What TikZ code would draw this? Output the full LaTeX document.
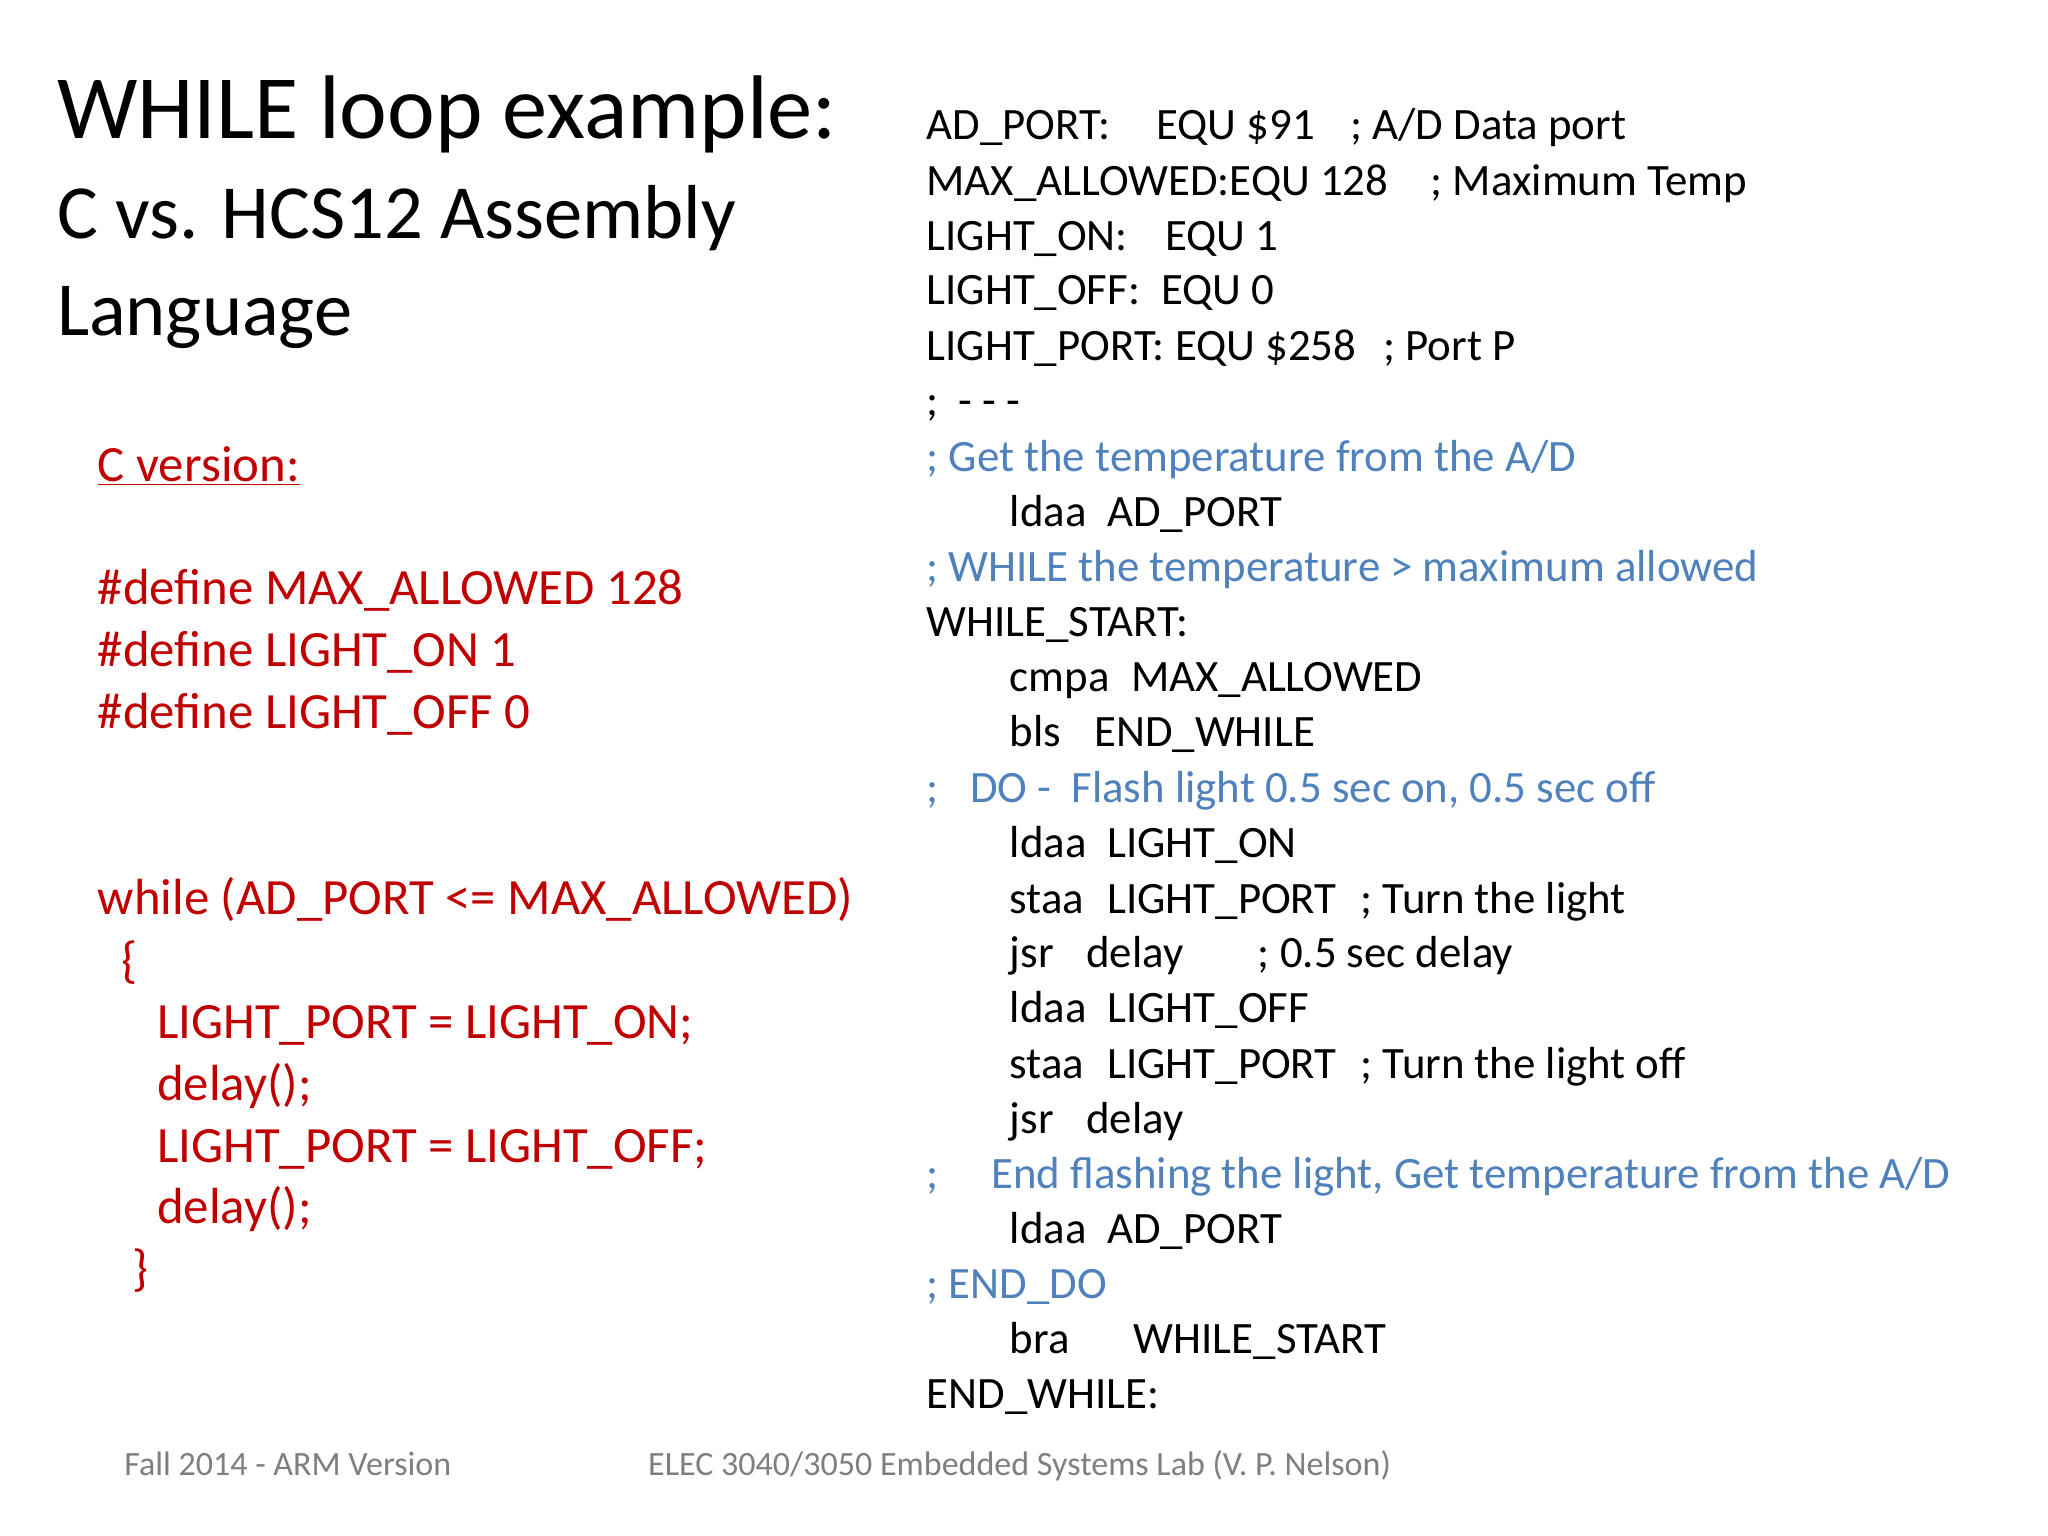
\documentclass[tikz,border=0pt]{standalone}
\usepackage{fontspec}
\setmainfont{Carlito}
\definecolor{cred}{HTML}{C00000}
\definecolor{cblue}{HTML}{4F81BD}
\definecolor{cgray}{HTML}{7F7F7F}
\begin{document}
\begin{tikzpicture}[x=1pt,y=-1pt,
  t/.style={anchor=base west,inner sep=0pt,font=\fontsize{34}{36}\selectfont},
  b/.style={t,text=cblue},
  c/.style={anchor=base west,inner sep=0pt,text=cred,font=\fontsize{38.5}{40}\selectfont},
  f/.style={anchor=base west,inner sep=0pt,text=cgray,font=\fontsize{25.8}{28}\selectfont}]
\useasboundingbox (0,0) rectangle (1552,1164);
\node[anchor=base west,inner sep=0pt,font=\fontsize{68.5}{70}\selectfont] (title) at (43,105) {WHILE loop example:};
\node[anchor=base west,inner sep=0pt,font=\fontsize{58}{60}\selectfont] (sub1) at (43,181) {C vs. HCS12 Assembly};
\node[anchor=base west,inner sep=0pt,font=\fontsize{58}{60}\selectfont] (sub2) at (43,254) {Language};
\node[c] (cv) at (74,365) {\underline{C version:}};
\node[c] (d1) at (74,458) {\#define MAX\_ALLOWED 128};
\node[c] (d2) at (74,505) {\#define LIGHT\_ON 1};
\node[c] (d3) at (74,552) {\#define LIGHT\_OFF 0};
\node[c] (w) at (74,693) {while (AD\_PORT <= MAX\_ALLOWED)};
\node[c] (ob) at (92,741) {\{};
\node[c] (s1) at (119,787) {LIGHT\_PORT = LIGHT\_ON;};
\node[c] (s2) at (119,834) {delay();};
\node[c] (s3) at (119,881) {LIGHT\_PORT = LIGHT\_OFF;};
\node[c] (s4) at (119,927) {delay();};
\node[c] (cb) at (100,974) {\}};
% right column
\node[t] (r1a) at (702,106) {AD\_PORT:};
\node[t] (r1b) at (876,106) {EQU \$91};
\node[t] (r1c) at (1023,106) {; A/D Data port};
\node[t] (r2a) at (702,148) {MAX\_ALLOWED:EQU 128};
\node[t] (r2b) at (1084,148) {; Maximum Temp};
\node[t] (r3a) at (702,190) {LIGHT\_ON:};
\node[t] (r3b) at (883,190) {EQU 1};
\node[t] (r4a) at (702,231) {LIGHT\_OFF:};
\node[t] (r4b) at (880,231) {EQU 0};
\node[t] (r5a) at (702,273) {LIGHT\_PORT: EQU \$258};
\node[t] (r5b) at (1048,273) {; Port P};
\node[t] (r6) at (702,315) {;\ \ - - -};
\node[b] (r7) at (702,357) {; Get the temperature from the A/D};
\node[t] (r8a) at (765,399) {ldaa};
\node[t] (r8b) at (839,399) {AD\_PORT};
\node[b] (r9) at (702,441) {; WHILE the temperature > maximum allowed};
\node[t] (r10) at (702,482) {WHILE\_START:};
\node[t] (r11a) at (765,524) {cmpa};
\node[t] (r11b) at (857,524) {MAX\_ALLOWED};
\node[t] (r12a) at (765,566) {bls};
\node[t] (r12b) at (829,566) {END\_WHILE};
\node[b] (r13a) at (702,608) {;};
\node[b] (r13b) at (735,608) {DO -\ \ Flash light 0.5 sec on, 0.5 sec off};
\node[t] (r14a) at (765,650) {ldaa};
\node[t] (r14b) at (839,650) {LIGHT\_ON};
\node[t] (r15a) at (765,692) {staa};
\node[t] (r15b) at (839,692) {LIGHT\_PORT};
\node[t] (r15c) at (1031,692) {; Turn the light};
\node[t] (r16a) at (765,733) {jsr};
\node[t] (r16b) at (823,733) {delay};
\node[t] (r16c) at (953,733) {; 0.5 sec delay};
\node[t] (r17a) at (765,775) {ldaa};
\node[t] (r17b) at (839,775) {LIGHT\_OFF};
\node[t] (r18a) at (765,817) {staa};
\node[t] (r18b) at (839,817) {LIGHT\_PORT};
\node[t] (r18c) at (1031,817) {; Turn the light off};
\node[t] (r19a) at (765,859) {jsr};
\node[t] (r19b) at (823,859) {delay};
\node[b] (r20a) at (702,901) {;};
\node[b] (r20b) at (751,901) {End flashing the light, Get temperature from the A/D};
\node[t] (r21a) at (765,942) {ldaa};
\node[t] (r21b) at (839,942) {AD\_PORT};
\node[b] (r22) at (702,984) {; END\_DO};
\node[t] (r23a) at (765,1026) {bra};
\node[t] (r23b) at (859,1026) {WHILE\_START};
\node[t] (r24) at (702,1067) {END\_WHILE:};
\node[f] (f1) at (94,1118) {Fall 2014 - ARM Version};
\node[f] (f2) at (491,1118) {ELEC 3040/3050 Embedded Systems Lab (V. P. Nelson)};
\end{tikzpicture}
\end{document}
